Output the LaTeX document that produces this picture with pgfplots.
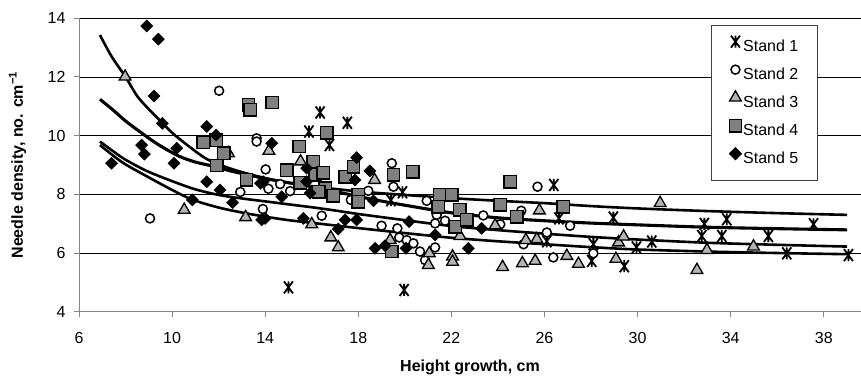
\documentclass[border=0pt]{standalone}
\usepackage{fontspec}
\setmainfont{Liberation Sans}
\usepackage{pgfplots}
\usepackage{pgfplotstable}
\pgfplotsset{compat=1.18}
\definecolor{axisgray}{HTML}{868686}
\definecolor{sqgray}{HTML}{808080}
\definecolor{trigray}{HTML}{B4B4B4}
\pgfdeclareplotmark{xstar}{%
  \pgfpathmoveto{\pgfqpoint{-0.75\pgfplotmarksize}{-\pgfplotmarksize}}%
  \pgfpathlineto{\pgfqpoint{0.75\pgfplotmarksize}{\pgfplotmarksize}}%
  \pgfpathmoveto{\pgfqpoint{-0.75\pgfplotmarksize}{\pgfplotmarksize}}%
  \pgfpathlineto{\pgfqpoint{0.75\pgfplotmarksize}{-\pgfplotmarksize}}%
  \pgfpathmoveto{\pgfqpoint{0pt}{-\pgfplotmarksize}}%
  \pgfpathlineto{\pgfqpoint{0pt}{\pgfplotmarksize}}%
  \pgfusepathqstroke}

\pgfplotstableread{
x y
15.0 4.83
15.88 10.14
16.36 10.79
16.76 9.68
17.53 10.44
19.4 7.80
19.9 8.07
19.97 4.74
26.4 8.32
26.62 7.18
26.1 6.40
28.1 6.30
28.03 5.73
28.96 7.21
29.43 5.55
29.95 6.19
30.61 6.39
32.76 6.58
32.87 6.99
33.83 7.15
33.62 6.58
35.62 6.58
36.41 5.99
37.56 6.98
39.06 5.93
}\standone

\pgfplotstableread{
x y
9.05 7.18
12.02 11.53
13.63 9.91
13.63 9.80
14.02 8.85
14.64 8.35
12.93 8.08
14.14 8.19
13.90 7.50
15.07 8.11
16.43 7.27
17.68 7.81
18.43 8.12
19.44 9.06
19.51 8.26
19.00 6.93
19.68 6.84
19.76 6.53
20.08 6.44
20.37 6.33
20.65 6.05
20.94 7.78
21.30 7.01
21.37 7.30
21.73 7.10
20.87 5.76
21.30 6.19
23.37 7.28
24.10 6.98
25.00 7.44
25.10 6.30
25.70 8.26
26.10 6.70
27.10 6.93
26.38 5.85
28.10 5.99
}\standtwo

\pgfplotstableread{
x y
7.98 12.01
10.52 7.47
13.16 7.22
12.42 9.40
14.16 9.48
15.52 9.12
16.00 6.98
16.82 6.53
17.14 6.19
18.70 8.49
19.37 6.44
21.05 5.99
21.01 5.59
22.05 5.88
22.05 5.70
22.37 6.58
23.88 6.94
24.20 5.52
25.05 5.65
25.60 5.73
25.20 6.44
25.67 6.47
25.78 7.45
26.96 5.90
27.46 5.63
29.07 5.80
29.18 6.36
29.40 6.56
30.97 7.70
32.55 5.42
32.98 6.10
34.98 6.22
}\standthree

\pgfplotstableread{
x y
11.34 9.78
11.89 9.85
12.22 9.40
11.92 8.98
13.28 11.05
13.35 10.88
14.30 11.13
13.20 8.49
14.92 8.82
15.46 9.63
15.50 8.40
16.07 9.11
16.14 8.66
16.64 10.10
16.50 8.74
17.43 8.60
17.79 8.94
16.57 8.21
16.93 7.95
18.00 7.98
18.00 7.75
16.30 8.09
19.51 8.66
20.34 8.77
21.51 7.98
22.02 7.98
21.44 7.58
22.37 7.47
22.16 6.90
22.66 7.13
24.10 7.64
24.52 8.43
24.81 7.24
26.81 7.58
19.44 6.05
}\standfour

\pgfplotstableread{
x y
7.40 9.06
8.69 9.68
8.81 9.37
8.91 13.74
9.41 13.29
9.22 11.35
9.58 10.42
10.08 9.06
10.20 9.57
10.87 7.81
11.49 10.31
11.89 10.02
11.49 8.43
12.06 8.15
12.60 7.72
13.85 7.13
14.00 7.18
14.28 9.74
13.92 8.43
13.80 8.38
14.71 7.92
15.78 8.89
15.78 8.43
15.64 7.18
15.93 8.04
17.93 9.25
18.50 8.80
17.86 8.49
18.65 7.78
17.43 7.13
17.93 7.13
17.14 6.82
18.72 6.16
19.15 6.25
20.05 6.16
20.18 7.07
21.30 6.62
22.73 6.16
23.30 6.84
}\standfive

\begin{document}
\begin{tikzpicture}
\useasboundingbox (0,0) rectangle (861pt,381pt);
\begin{axis}[
  at={(79pt,69.3pt)}, anchor=south west,
  scale only axis, width=782pt, height=293.4pt,
  xmin=6, xmax=39.6, ymin=4, ymax=14,
  xtick={6,10,...,38}, ytick={4,6,...,14},
  axis x line*=bottom, axis y line*=left,
  axis line style={draw=axisgray, line width=1pt},
  tick style={draw=axisgray, line width=1pt},
  tick align=outside, major tick length=5pt,
  ymajorgrids, major grid style={black, line width=0.8pt},
  ticklabel style={font=\fontsize{16}{19}\selectfont},
  xticklabel style={yshift=-12pt},
  yticklabel style={xshift=-5pt},
  /pgf/number format/assume math mode=true,
  xlabel={Height growth, cm},
  ylabel={Needle density, no. cm\textsuperscript{−1}},
  label style={font=\fontsize{16}{19}\selectfont\bfseries},
  xlabel style={at={(axis description cs:0.5,-0.1885)}, anchor=center},
  ylabel style={at={(axis description cs:-0.0786,0.5)}, anchor=center},
  legend cell align=left,
  legend style={at={(0.808,0.977)}, anchor=north west, draw=black!75,
    line width=0.8pt, fill=white, inner xsep=18pt, inner ysep=7.7pt,
    row sep=0pt, font=\fontsize{16}{19}\selectfont,
    nodes={text height=12pt, text depth=4pt, inner ysep=6pt, inner xsep=1.5pt}},
  legend image code/.code={\draw[#1] plot coordinates {(0pt,5.5pt)};},
]
\addplot[only marks, black, mark=xstar, mark size=6pt, mark options={line width=1.8pt}] table {\standone};
\addlegendentry{Stand 1\hspace{10pt}}
\addplot[only marks, black, mark=*, mark size=4.5pt, mark options={fill=white, draw=black, line width=1.5pt}] table {\standtwo};
\addlegendentry{Stand 2\hspace{10pt}}
\addplot[only marks, black, mark=triangle*, mark size=6.8pt, mark options={fill=trigray, draw=black, line width=1.3pt}] table {\standthree};
\addlegendentry{Stand 3\hspace{10pt}}
\addplot[only marks, black, mark=square*, mark size=6.2pt, mark options={fill=sqgray, draw=black, line width=1.4pt}] table {\standfour};
\addlegendentry{Stand 4\hspace{10pt}}
\addplot[only marks, black, mark=square*, mark size=4.3pt, mark options={rotate=45, fill=black, draw=black}] table {\standfive};
\addlegendentry{Stand 5\hspace{10pt}}

\addplot[forget plot, black, line width=2.6pt, smooth] coordinates {
(6.9,13.43)(7.4,12.7)(8,12.0)(8.5,11.35)(9,10.9)(9.5,10.5)(10,10.1)(10.7,9.65)(11.5,9.2)(12.5,8.88)(13.5,8.65)(14.6,8.45)(16,8.28)(18,8.1)(20,7.98)(22,7.87)(24,7.78)(26,7.70)(28,7.6)(30,7.52)(33,7.43)(36,7.36)(39,7.30)};
\addplot[forget plot, black, line width=3.1pt, smooth] coordinates {
(6.9,11.24)(7.5,10.85)(8,10.5)(8.9,9.97)(9.5,9.65)(10.3,9.3)(11,9.1)(11.7,8.97)(12.5,8.8)(13.5,8.62)(14.6,8.45)(16,8.26)(17,8.1)(18,7.93)(19,7.77)(20,7.63)(22,7.37)(24,7.2)(26,7.1)(28,7.02)(30,6.96)(33,6.88)(36,6.83)(39,6.79)};
\addplot[forget plot, black, line width=2.6pt, smooth] coordinates {
(6.9,9.80)(7.5,9.45)(8,9.18)(8.9,8.8)(10,8.45)(11,8.17)(12,7.98)(13,7.86)(14,7.76)(15,7.66)(16,7.56)(17,7.45)(18,7.33)(20,7.12)(22,6.92)(24,6.78)(26,6.66)(28,6.55)(30,6.46)(33,6.35)(36,6.28)(39,6.22)};
\addplot[forget plot, black, line width=2.6pt, smooth] coordinates {
(6.9,9.68)(7.5,9.3)(8,9.02)(8.9,8.62)(10,8.15)(10.9,7.81)(12,7.55)(13,7.38)(14,7.24)(15,7.12)(16,7.03)(18,6.85)(20,6.68)(22,6.52)(24,6.40)(26,6.3)(28,6.2)(30,6.12)(33,6.05)(36,6.0)(39,5.96)};
\end{axis}
\end{tikzpicture}
\end{document}
